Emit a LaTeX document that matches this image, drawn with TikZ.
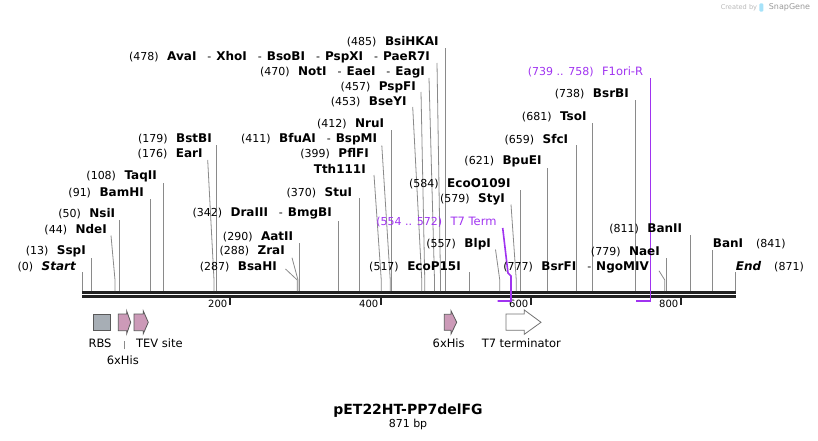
\documentclass[tikz,border=0pt]{standalone}
\usepackage{fontspec}
\setmainfont{DejaVu Sans}
\usepackage{tikz}
\usetikzlibrary{calc}
\definecolor{cutgray}{HTML}{8A8A8A}
\definecolor{ftrpurple}{HTML}{A033F0}
\definecolor{rbsgray}{HTML}{A7AEB5}
\definecolor{hispink}{HTML}{CC9AB8}
\definecolor{seqblack}{HTML}{222222}
\newcommand{\sitepos}[1]{{\fontsize{11}{13}\selectfont(#1)}\hspace{8.5pt}}
\newcommand{\enzname}[1]{{\fontsize{12}{14}\selectfont\bfseries #1}}
\newcommand{\sitesep}{\hspace{11pt}{\fontsize{11}{13}\selectfont-}\hspace{5pt}}

\begin{document}
\begin{tikzpicture}[x=1pt,y=-1pt,
  site/.style={inner sep=0pt,anchor=east},
  siteR/.style={inner sep=0pt,anchor=west},
  cut/.style={cutgray,line width=0.8pt},
  ftr/.style={ftrpurple,line width=1.6pt},
  ftrlbl/.style={inner sep=0pt,font=\fontsize{11.5}{13}\selectfont},
  arrowbox/.style={draw=black!65,line width=0.8pt,line join=miter}]
  \useasboundingbox (0,0) rectangle (818,441); % 画像の範囲
  \node[site,text=black!28,font=\fontsize{6.6}{8}\selectfont] (credA) at (757.3,7.3) {Created by}; % 作成者表示
  \fill[cyan!35,rounded corners=1.2pt] (759.3,3.3) rectangle (763.3,11.7); % ロゴ
  \node[siteR,text=black!40,font=\fontsize{8}{10}\selectfont] (credB) at (768.7,7.3) {SnapGene}; % ロゴの文字
  \foreach \p in {0,13,44,50,91,108,176,179,287,288,290,342,370,399,411,412,453,457,470,478,485,517,557,579,584,621,659,681,738,777,779,811,841,871}
    \coordinate (s\p) at ({82+0.75*\p},291); % 切断位置
  \coordinate (t7a) at ({82+0.75*554},301); % T7 Term の左端
  \coordinate (t7b) at ({82+0.75*572},301); % T7 Term の右端
  \coordinate (f1a) at ({82+0.75*739},301); % F1ori-R の左端
  \coordinate (f1b) at ({82+0.75*758},301); % F1ori-R の右端
  \draw[seqblack,line width=2.7pt] (82,292.3) -- (736,292.3); % 配列の上の線
  \draw[seqblack,line width=2.7pt] (82,296.3) -- (736,296.3); % 配列の下の線
  \foreach \t/\tx in {200/230,400/381,600/531,800/681} {
    \draw[seqblack,line width=1.5pt] (\tx,297) -- (\tx,305); % 目盛り
    \node[site,font=\fontsize{10}{12}\selectfont] (tk\t) at (\tx-2.5,304) {\t}; % 目盛りの数
  }
  % 左側の切断サイト
  \node[site] (Start) at (76,267) {\sitepos{0}\enzname{\itshape Start}};
  \draw[cut] (s0) -- ($(s0 |- Start.east)+(0,5)$);
  \node[site] (SspI) at (86,251) {\sitepos{13}\enzname{SspI}};
  \draw[cut] (s13) -- ($(s13 |- SspI.east)+(0,6.5)$);
  \node[site] (NdeI) at (107,229.5) {\sitepos{44}\enzname{NdeI}};
  \draw[cut] ($(NdeI.east)+(4,6)$) -- ($(s44)+(0,-11)$) -- (s44);
  \node[site] (NsiI) at (115.3,213.5) {\sitepos{50}\enzname{NsiI}};
  \draw[cut] (s50) -- ($(s50 |- NsiI.east)+(0,6.5)$);
  \node[site] (BamHI) at (144,192.5) {\sitepos{91}\enzname{BamHI}};
  \draw[cut] (s91) -- ($(s91 |- BamHI.east)+(0,6)$);
  \node[site] (TaqII) at (157,176) {\sitepos{108}\enzname{TaqII}};
  \draw[cut] (s108) -- ($(s108 |- TaqII.east)+(0,7)$);
  \node[site] (BstBI) at (212,139) {\sitepos{179}\enzname{BstBI}};
  \draw[cut] (s179) -- ($(s179 |- BstBI.east)+(0,6)$);
  \node[site] (EarI) at (202.7,154) {\sitepos{176}\enzname{EarI}};
  \draw[cut] ($(EarI.east)+(5,6)$) -- ($(s176)+(0,-11)$) -- (s176);
  \node[site] (BsaHI) at (277,267) {\sitepos{287}\enzname{BsaHI}};
  \draw[cut] ($(BsaHI.east)+(8.5,2)$) -- ($(s287)+(0,-11)$) -- (s287);
  \node[site] (ZraI) at (285,251.3) {\sitepos{288}\enzname{ZraI}};
  \draw[cut] ($(ZraI.east)+(7,6.4)$) -- ($(s288)+(0,-11)$) -- (s288);
  \node[site] (AatII) at (293.3,237.3) {\sitepos{290}\enzname{AatII}};
  \draw[cut] (s290) -- ($(s290 |- AatII.east)+(0,6)$);
  \node[site] (DraIII) at (332,213.3) {\sitepos{342}\enzname{DraIII}\sitesep\enzname{BmgBI}};
  \draw[cut] (s342) -- ($(s342 |- DraIII.east)+(0,7.5)$);
  \node[site] (StuI) at (352.3,192.3) {\sitepos{370}\enzname{StuI}};
  \draw[cut] (s370) -- ($(s370 |- StuI.east)+(0,6)$);
  \node[site] (PflFI) at (369,154) {\sitepos{399}\enzname{PflFI}};
  \node[site] (Tth111I) at (366,169) {\enzname{Tth111I}};
  \draw[cut] ($(Tth111I.east)+(8,6)$) -- ($(s399)+(0,-11)$) -- (s399);
  \node[site] (BfuAI) at (377.3,139) {\sitepos{411}\enzname{BfuAI}\sitesep\enzname{BspMI}};
  \draw[cut] ($(BfuAI.east)+(4.5,6.5)$) -- ($(s411)+(0,-11)$) -- (s411);
  \node[site] (NruI) at (384.3,124) {\sitepos{412}\enzname{NruI}};
  \draw[cut] (s412) -- ($(s412 |- NruI.east)+(0,6)$);
  \node[site] (BseYI) at (406.7,102) {\sitepos{453}\enzname{BseYI}};
  \draw[cut] ($(BseYI.east)+(6,5)$) -- ($(s453)+(0,-11)$) -- (s453);
  \node[site] (PspFI) at (416,87) {\sitepos{457}\enzname{PspFI}};
  \draw[cut] ($(PspFI.east)+(5,5)$) -- ($(s457)+(0,-11)$) -- (s457);
  \node[site] (NotI) at (425,72) {\sitepos{470}\enzname{NotI}\sitesep\enzname{EaeI}\sitesep\enzname{EagI}};
  \draw[cut] ($(NotI.east)+(4,6)$) -- ($(s470)+(0,-11)$) -- (s470);
  \node[site] (AvaI) at (430,57) {\sitepos{478}\enzname{AvaI}\sitesep\enzname{XhoI}\sitesep\enzname{BsoBI}\sitesep\enzname{PspXI}\sitesep\enzname{PaeR7I}};
  \draw[cut] ($(AvaI.east)+(7,6)$) -- ($(s478)+(0,-11)$) -- (s478);
  \node[site] (BsiHKAI) at (438.7,42) {\sitepos{485}\enzname{BsiHKAI}};
  \draw[cut] (s485) -- ($(s485 |- BsiHKAI.east)+(0,6)$);
  % 右側の切断サイト
  \node[site] (EcoP15I) at (461,267.3) {\sitepos{517}\enzname{EcoP15I}};
  \draw[cut] (s517) -- ($(s517 |- EcoP15I.east)+(0,5)$);
  \node[site] (BlpI) at (491,244) {\sitepos{557}\enzname{BlpI}};
  \draw[cut] ($(BlpI.east)+(4.5,5.5)$) -- ($(s557)+(0,-11)$) -- (s557);
  \node[site,text=ftrpurple] (T7Term) at (496.7,222) {\sitepos{554 .. 572}{\fontsize{11.5}{13}\selectfont T7 Term}};
  \draw[ftr] ($(T7Term.east)+(6,6)$) -- ($(t7b)+(-3,-28)$) -- ($(t7b)+(0,-25)$) -- (t7b) -- (t7a);
  \node[site] (StyI) at (505,199) {\sitepos{579}\enzname{StyI}};
  \draw[cut] ($(StyI.east)+(6,5.5)$) -- ($(s579)+(0,-11)$) -- (s579);
  \node[site] (EcoO109I) at (510.7,184) {\sitepos{584}\enzname{EcoO109I}};
  \draw[cut] (s584) -- ($(s584 |- EcoO109I.east)+(0,6)$);
  \node[site] (BpuEI) at (541.7,161.7) {\sitepos{621}\enzname{BpuEI}};
  \draw[cut] (s621) -- ($(s621 |- BpuEI.east)+(0,6.5)$);
  \node[site] (SfcI) at (568.3,139.3) {\sitepos{659}\enzname{SfcI}};
  \draw[cut] (s659) -- ($(s659 |- SfcI.east)+(0,6)$);
  \node[site] (TsoI) at (586.7,117) {\sitepos{681}\enzname{TsoI}};
  \draw[cut] (s681) -- ($(s681 |- TsoI.east)+(0,6.3)$);
  \node[site] (BsrBI) at (629,93.7) {\sitepos{738}\enzname{BsrBI}};
  \draw[cut] (s738) -- ($(s738 |- BsrBI.east)+(0,6.3)$);
  \node[site,text=ftrpurple] (F1ori) at (643.3,71.7) {\sitepos{739 .. 758}{\fontsize{11.5}{13}\selectfont F1ori-R}};
  \draw[ftr] ($(f1b |- F1ori.east)+(0,6.5)$) -- (f1b) -- (f1a);
  \node[site] (BsrFI) at (649,267.3) {\sitepos{777}\enzname{BsrFI}\sitesep\enzname{NgoMIV}};
  \draw[cut] ($(BsrFI.east)+(10,3.5)$) -- ($(s777)+(0,-11)$) -- (s777);
  \node[site] (NaeI) at (660,252) {\sitepos{779}\enzname{NaeI}};
  \draw[cut] (s779) -- ($(s779 |- NaeI.east)+(0,6.3)$);
  \node[site] (BanII) at (682.3,229.3) {\sitepos{811}\enzname{BanII}};
  \draw[cut] (s811) -- ($(s811 |- BanII.east)+(0,6)$);
  \node[siteR] (BanI) at (712.7,244) {\enzname{BanI}\hspace{13pt}{\fontsize{11}{13}\selectfont(841)}};
  \draw[cut] (s841) -- ($(s841 |- BanI.west)+(0,6)$);
  \node[siteR] (End) at (735.7,267) {\enzname{\itshape End}\hspace{13pt}{\fontsize{11}{13}\selectfont(871)}};
  \draw[cut] (s871) -- ($(s871 |- End.west)+(0,5)$);
  % 配列の下のフィーチャー
  \draw[arrowbox,fill=rbsgray] (93.3,314) rectangle (110.7,330.7); % RBS
  \draw[arrowbox,fill=hispink] (118.3,314) -- (126.7,314) -- (126.7,311) -- (130.7,322.3) -- (126.7,333.7) -- (126.7,330.7) -- (118.3,330.7) -- cycle; % 6xHis
  \draw[arrowbox,fill=hispink] (134,314) -- (143.3,314) -- (143.3,311) -- (148.3,322.3) -- (143.3,333.7) -- (143.3,330.7) -- (134,330.7) -- cycle; % TEV site
  \draw[arrowbox,fill=hispink] (444.3,314.3) -- (451,314.3) -- (451,310.7) -- (456.7,322.3) -- (451,334) -- (451,330.3) -- (444.3,330.3) -- cycle; % 6xHis
  \draw[arrowbox,fill=white,draw=black!55] (506,314) -- (524.3,314) -- (524.3,310) -- (541,322.3) -- (524.3,334.3) -- (524.3,330.3) -- (506,330.3) -- cycle; % T7 terminator
  \node[ftrlbl] (lRBS) at (100,343.3) {RBS};
  \node[ftrlbl] (lHisA) at (122.8,360) {6xHis};
  \draw[cut] ($(lHisA.north)+(1.5,-6)$) -- ++(0,-8.5);
  \node[ftrlbl] (lTEV) at (159.3,343.3) {TEV site};
  \node[ftrlbl] (lHisB) at (448.7,343.3) {6xHis};
  \node[ftrlbl] (lT7) at (521.3,343.3) {T7 terminator};
  % 名前と長さ
  \node[inner sep=0pt,font=\fontsize{14}{16}\selectfont\bfseries] (title) at (408,410.5) {pET22HT-PP7delFG};
  \node[inner sep=0pt,font=\fontsize{11}{13}\selectfont] (len) at (408,424.5) {871 bp};
\end{tikzpicture}
\end{document}
